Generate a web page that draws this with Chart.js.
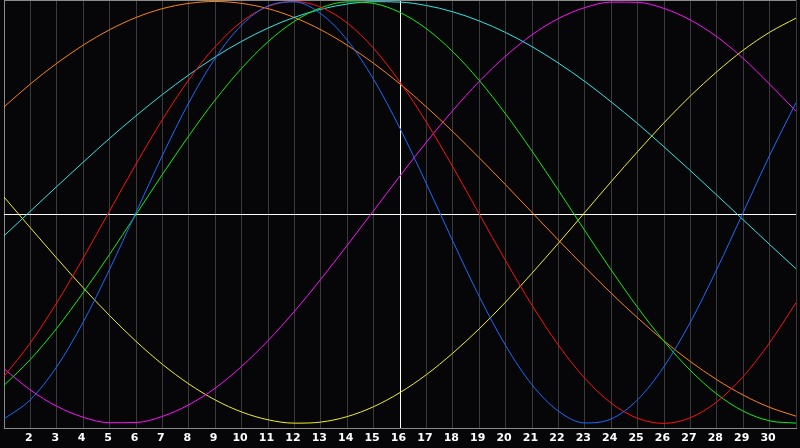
<!DOCTYPE html>
<html>
<head>
<meta charset="utf-8">
<script src="https://cdn.jsdelivr.net/npm/chart.js@4"></script>
<style>
  html, body { margin: 0; padding: 0; background: #060609; }
  #wrap { width: 800px; height: 448px; }
</style>
</head>
<body>
<div id="wrap"><canvas id="grafica" width="800" height="448"></canvas></div>
<script>
// dias del mes
const dias = [1,2,3,4,5,6,7,8,9,10,11,12,13,14,15,16,17,18,19,20,21,22,23,24,25,26,27,28,29,30,31];

// ciclos (valor -1 .. 1)
const fisico = [-0.979,-0.888,-0.731,-0.520,-0.270,0.000,0.270,0.520,0.731,0.888,0.979,0.998,0.942,0.817,0.631,0.398,0.136,-0.136,-0.398,-0.631,-0.817,-0.942,-0.998,-0.979,-0.888,-0.731,-0.520,-0.270,0.000,0.270,0.520];
const emocional = [-0.778,-0.618,-0.428,-0.216,0.007,0.229,0.440,0.629,0.786,0.904,0.976,1.000,0.973,0.898,0.778,0.618,0.428,0.216,-0.007,-0.229,-0.440,-0.629,-0.786,-0.904,-0.976,-1.000,-0.973,-0.898,-0.778,-0.618,-0.428];
const intelectual = [-0.820,-0.697,-0.549,-0.380,-0.199,-0.010,0.180,0.363,0.533,0.683,0.809,0.906,0.970,0.998,0.991,0.948,0.871,0.762,0.626,0.467,0.291,0.105,-0.086,-0.273,-0.450,-0.611,-0.749,-0.861,-0.942,-0.988,-0.999];
const intuitivo = [-0.741,-0.842,-0.919,-0.971,-0.997,-0.996,-0.967,-0.912,-0.833,-0.730,-0.608,-0.469,-0.317,-0.156,0.008,0.173,0.333,0.483,0.621,0.741,0.842,0.919,0.971,0.997,0.996,0.967,0.912,0.833,0.730,0.608,0.480];
const estetico = [0.073,-0.073,-0.217,-0.357,-0.489,-0.611,-0.720,-0.813,-0.889,-0.946,-0.983,-0.999,-0.994,-0.968,-0.921,-0.854,-0.769,-0.667,-0.552,-0.425,-0.288,-0.146,0.000,0.146,0.288,0.425,0.552,0.667,0.769,0.854,0.921];
const conciencia = [0.500,0.609,0.707,0.793,0.866,0.924,0.966,0.991,1.000,0.991,0.966,0.924,0.866,0.793,0.707,0.609,0.500,0.383,0.259,0.131,0.000,-0.131,-0.259,-0.383,-0.500,-0.609,-0.707,-0.793,-0.866,-0.924,-0.966];
const espiritual = [-0.111,0.006,0.123,0.238,0.351,0.458,0.559,0.652,0.737,0.811,0.874,0.925,0.963,0.988,0.999,0.997,0.981,0.951,0.908,0.853,0.786,0.708,0.621,0.524,0.421,0.311,0.198,0.082,-0.035,-0.152,-0.267];

const diaHoy = 16;

function serie(datos, color) {
    return {
        data: datos,
        borderColor: color,
        borderWidth: 1,
        pointRadius: 0,
        cubicInterpolationMode: 'monotone', // suaviza sin ondas
        fill: false
    };
}

const ctx = document.getElementById('grafica').getContext('2d');

new Chart(ctx, {
    type: 'line',
    data: {
        labels: dias,
        datasets: [
            serie(fisico, '#1a6cff'),
            serie(emocional, '#ff1010'),
            serie(intelectual, '#10ee10'),
            serie(espiritual, '#30e6e6'),
            serie(conciencia, '#ff8410'),
            serie(intuitivo, '#ff10ff'),
            serie(estetico, '#f0f020')
        ]
    },
    options: {
        responsive: false,
        devicePixelRatio: 1,
        animation: false,
        layout: { padding: 0 },
        plugins: { legend: { display: false }, tooltip: { enabled: false } },
        scales: {
            x: {
                type: 'category',
                offset: false,
                afterFit: (s) => { s.height = 20; },
                border: { display: true, color: '#8a8a8a', width: 1 },
                grid: {
                    drawTicks: false,
                    lineWidth: 1,
                    color: (c) => {
                        if (c.index === 0) return '#8a8a8a';
                        return dias[c.index] === diaHoy ? '#ffffff' : '#3a3a3a';
                    }
                },
                ticks: {
                    autoSkip: false,
                    maxRotation: 0,
                    padding: 4,
                    labelOffset: -1.5,
                    color: '#ffffff',
                    font: { family: 'DejaVu Sans', size: 11, weight: 'bold' },
                    callback: function (v, i) {
                        return (i === 0 || i === dias.length - 1) ? '' : dias[i];
                    }
                }
            },
            y: {
                min: -1.022,
                max: 1.007,
                afterFit: (s) => { s.width = 0; },
                afterBuildTicks: (s) => { s.ticks = [{ value: 1.007 }, { value: -0.0076 }]; },
                border: { display: false },
                grid: {
                    drawTicks: false,
                    lineWidth: 1,
                    color: (c) => c.tick.value > 0.5 ? '#8a8a8a' : '#ffffff'
                },
                ticks: { display: false }
            }
        }
    }
});
</script>
</body>
</html>
